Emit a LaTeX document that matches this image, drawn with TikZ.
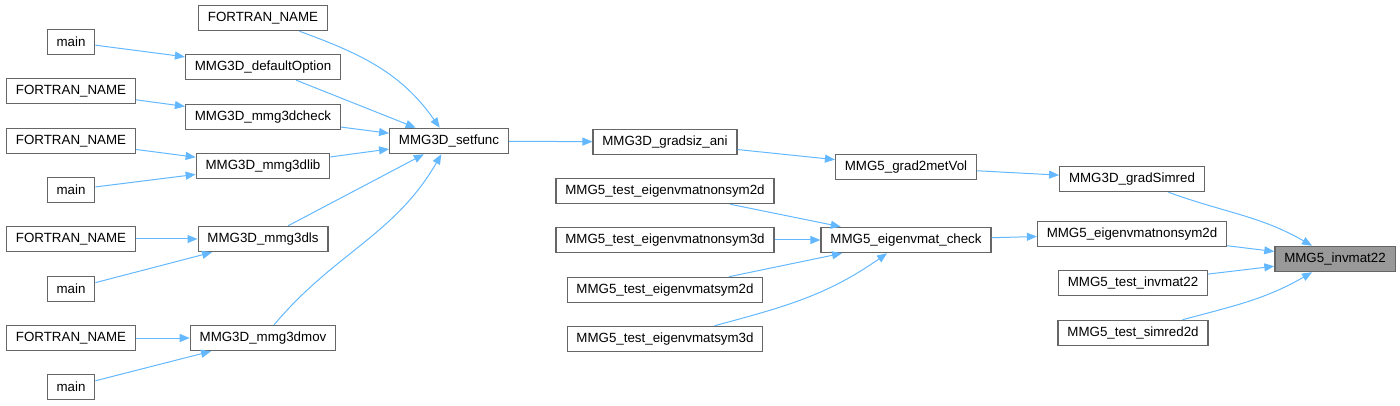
\documentclass[tikz,border=0pt]{standalone}
\usepackage{fontspec}
\setmainfont{Liberation Sans}
\usetikzlibrary{arrows.meta}
\definecolor{EdgeBlue}{HTML}{63B8FF}
\definecolor{FrameGray}{HTML}{666666}
\definecolor{FocusGray}{HTML}{999999}

\begin{document}
\begin{tikzpicture}[x=0.75pt, y=-0.75pt,
    fn/.style={draw=FrameGray, line width=0.9pt, fill=white,
               minimum height=19pt, inner xsep=7pt, inner ysep=2pt,
               font=\fontsize{10}{12}\selectfont},
    focus/.style={fn, fill=FocusGray},
    call/.style={draw=EdgeBlue, line width=0.75pt,
                 -{Triangle[length=7.5pt, width=6pt]}}]
  \useasboundingbox (0,0) rectangle (1400,406);

  \node[fn] (mainA) at (71,42) {main};
  \node[fn] (fortranA) at (71,91) {FORTRAN\_NAME};
  \node[fn] (fortranB) at (71,141) {FORTRAN\_NAME};
  \node[fn] (mainB) at (71,190) {main};
  \node[fn] (fortranC) at (71,239) {FORTRAN\_NAME};
  \node[fn] (mainC) at (71,289) {main};
  \node[fn] (fortranD) at (71,338) {FORTRAN\_NAME};
  \node[fn] (mainD) at (71,387) {main};

  \node[fn] (fortranTop) at (263,18) {FORTRAN\_NAME};
  \node[fn] (defaultOption) at (263,67) {MMG3D\_defaultOption};
  \node[fn] (mmgcheck) at (263,117) {MMG3D\_mmg3dcheck};
  \node[fn] (mmglib) at (263,166) {MMG3D\_mmg3dlib};
  \node[fn] (mmgls) at (263,239) {MMG3D\_mmg3dls};
  \node[fn] (mmgmov) at (263,338) {MMG3D\_mmg3dmov};

  \node[fn] (setfunc) at (449,141) {MMG3D\_setfunc};

  \node[fn] (gradsiz) at (665,142) {MMG3D\_gradsiz\_ani};
  \node[fn] (testNonsymA) at (665,191) {MMG5\_test\_eigenvmatnonsym2d};
  \node[fn] (testNonsymB) at (665,240) {MMG5\_test\_eigenvmatnonsym3d};
  \node[fn] (testSymA) at (665,290) {MMG5\_test\_eigenvmatsym2d};
  \node[fn] (testSymB) at (665,339) {MMG5\_test\_eigenvmatsym3d};

  \node[fn] (gradmet) at (906,167) {MMG5\_grad2metVol};
  \node[fn] (eigcheck) at (906,240) {MMG5\_eigenvmat\_check};

  \node[fn] (gradSimred) at (1132,179) {MMG3D\_gradSimred};
  \node[fn] (eigNonsym) at (1132,234) {MMG5\_eigenvmatnonsym2d};
  \node[fn] (testInv) at (1133,283) {MMG5\_test\_invmat22};
  \node[fn] (testSimred) at (1133,333) {MMG5\_test\_simred2d};

  \node[focus] (invmat) at (1335,259) {MMG5\_invmat22};

  \draw[call] (mainA) -- (defaultOption);
  \draw[call] (fortranA) -- (mmgcheck);
  \draw[call] (fortranB) -- (mmglib);
  \draw[call] (mainB) -- (mmglib);
  \draw[call] (fortranC) -- (mmgls);
  \draw[call] (mainC) -- (mmgls);
  \draw[call] (fortranD) -- (mmgmov);
  \draw[call] (mainD) -- (mmgmov);

  \draw[call] (fortranTop) to[out=-20, in=125] (setfunc);
  \draw[call] (defaultOption) -- (setfunc);
  \draw[call] (mmgcheck) -- (setfunc);
  \draw[call] (mmglib) -- (setfunc);
  \draw[call] (mmgls) -- (setfunc);
  \draw[call] (mmgmov) to[out=50, in=-120] (setfunc);

  \draw[call] (setfunc) -- (gradsiz);
  \draw[call] (gradsiz) -- (gradmet);
  \draw[call] (testNonsymA) -- (eigcheck);
  \draw[call] (testNonsymB) -- (eigcheck);
  \draw[call] (testSymA) -- (eigcheck);
  \draw[call] (testSymB) to[out=15, in=-145] (eigcheck);

  \draw[call] (gradmet) -- (gradSimred);
  \draw[call] (eigcheck) -- (eigNonsym);

  \draw[call] (gradSimred) to[out=-20, in=150] (invmat);
  \draw[call] (eigNonsym) -- (invmat);
  \draw[call] (testInv) -- (invmat);
  \draw[call] (testSimred) to[out=15, in=-150] (invmat);
\end{tikzpicture}
\end{document}
